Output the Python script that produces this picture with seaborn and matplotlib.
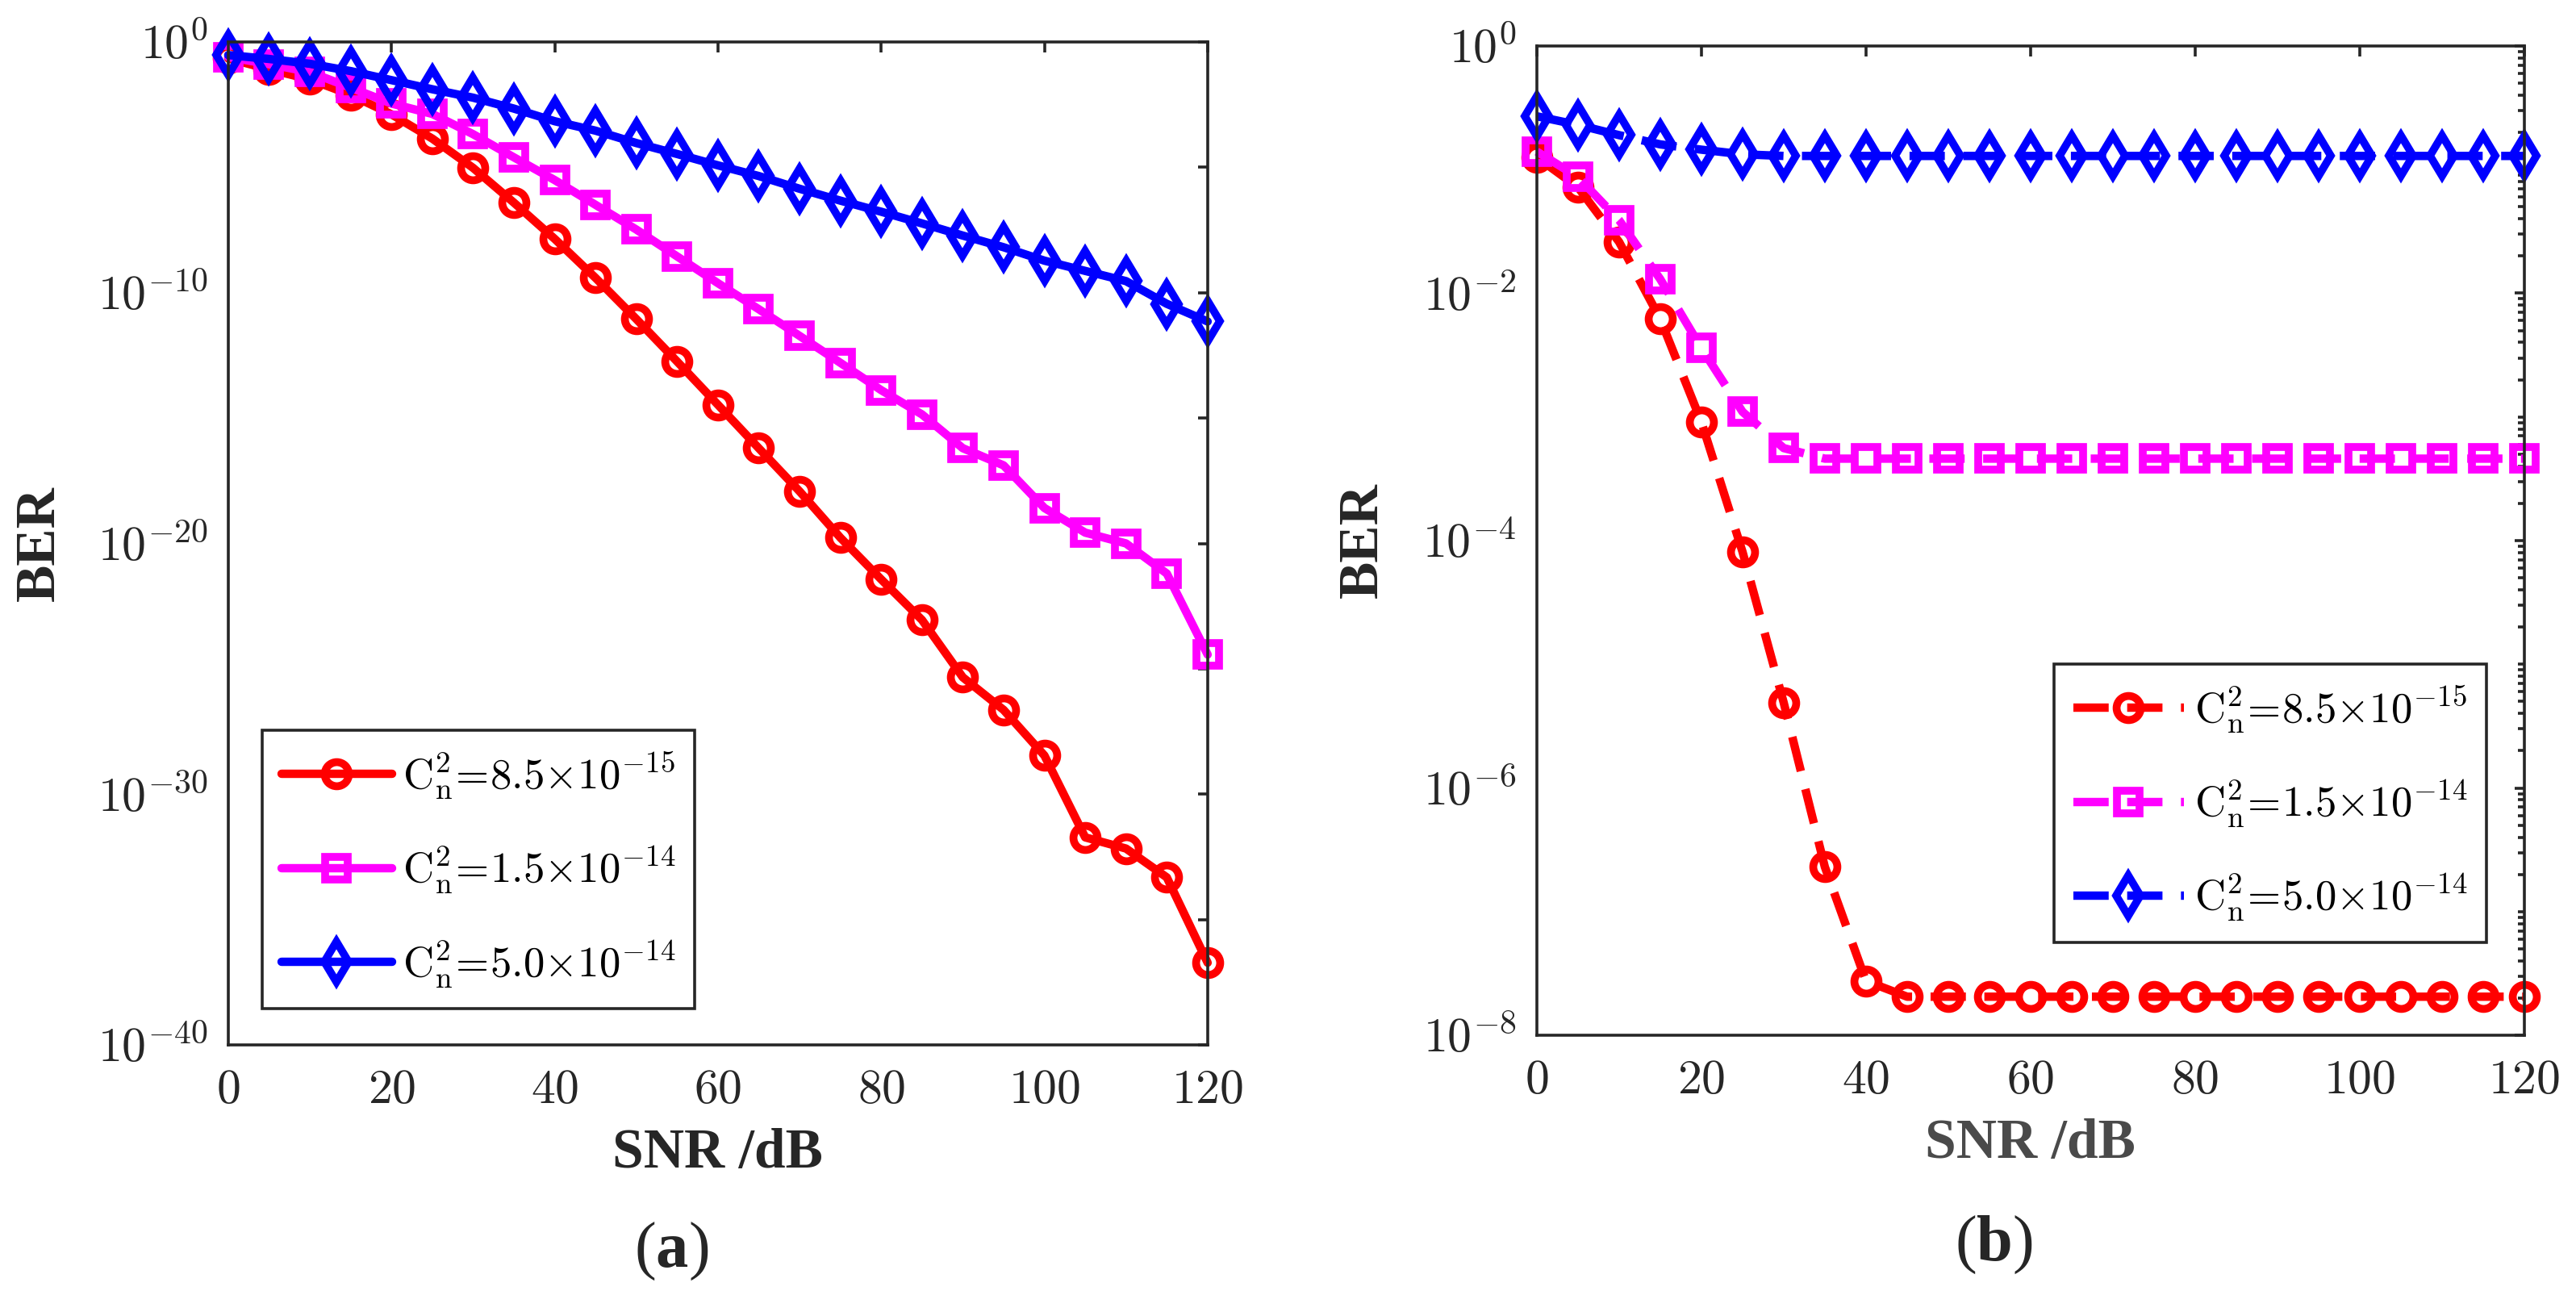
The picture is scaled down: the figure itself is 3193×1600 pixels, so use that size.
import math
import matplotlib
matplotlib.use('Agg')
import pandas as pd
import matplotlib.pyplot as plt
import seaborn as sns
from matplotlib.ticker import FixedLocator, FuncFormatter, LogLocator, NullFormatter

# SNR axis (dB), one marker every 5 dB
snr_db = list(range(0, 121, 5))

# series labels (turbulence strength)
labels = [r'$\mathrm{C}_\mathrm{n}^{2}\!=\!8.5{\times}10^{-15}$',
          r'$\mathrm{C}_\mathrm{n}^{2}\!=\!1.5{\times}10^{-14}$',
          r'$\mathrm{C}_\mathrm{n}^{2}\!=\!5.0{\times}10^{-14}$']

# panel (a) BER values
ber_a_85e15 = [2.2e-1, 8.1e-2, 3.2e-2, 7.8e-3, 1.3e-3, 1.4e-4, 9.5e-6, 3.9e-7, 1.4e-8,
               3.9e-10, 8.9e-12, 1.8e-13, 3.4e-15, 6.3e-17, 1.2e-18, 1.7e-20, 3.7e-22,
               8.9e-24, 4.6e-26, 2.3e-27, 3.5e-29, 1.9e-32, 6.8e-33, 4.8e-34, 1.9e-37]
ber_a_15e14 = [2.5e-1, 1.3e-1, 6.3e-2, 1.5e-2, 3.5e-3, 1.35e-3, 2.1e-4, 2.5e-5, 3.1e-6,
               3.2e-7, 3.3e-8, 2.8e-9, 2.4e-10, 2.2e-11, 1.9e-12, 1.6e-13, 1.3e-14,
               1.4e-15, 6.3e-17, 1.3e-17, 2.6e-19, 2.7e-20, 1.0e-20, 6.3e-22, 3.7e-25]
ber_a_50e14 = [3.0e-1, 2.1e-1, 1.35e-1, 6.9e-2, 3.0e-2, 1.3e-2, 6.0e-3, 2.2e-3, 6.9e-4,
               2.9e-4, 9.3e-5, 3.4e-5, 1.2e-5, 4.5e-6, 1.4e-6, 4.7e-7, 1.7e-7, 5.8e-8,
               1.9e-8, 6.5e-9, 1.9e-9, 7.4e-10, 2.9e-10, 3.6e-11, 7.1e-12]

# panel (b) BER values
ber_b_85e15 = [1.26e-1, 7.2e-2, 2.6e-2, 6.2e-3, 9.1e-4, 8.1e-5, 4.9e-6, 2.3e-7, 2.75e-8,
               2.05e-8, 2.05e-8, 2.05e-8, 2.05e-8, 2.05e-8, 2.05e-8, 2.05e-8, 2.05e-8,
               2.05e-8, 2.05e-8, 2.05e-8, 2.05e-8, 2.05e-8, 2.05e-8, 2.05e-8, 2.05e-8]
ber_b_15e14 = [1.4e-1, 8.7e-2, 3.9e-2, 1.3e-2, 3.6e-3, 1.1e-3, 5.6e-4, 4.6e-4, 4.6e-4,
               4.6e-4, 4.6e-4, 4.6e-4, 4.6e-4, 4.6e-4, 4.6e-4, 4.6e-4, 4.6e-4,
               4.6e-4, 4.6e-4, 4.6e-4, 4.6e-4, 4.6e-4, 4.6e-4, 4.6e-4, 4.6e-4]
ber_b_50e14 = [2.7e-1, 2.3e-1, 1.9e-1, 1.6e-1, 1.45e-1, 1.33e-1, 1.29e-1, 1.29e-1, 1.29e-1,
               1.29e-1, 1.29e-1, 1.29e-1, 1.29e-1, 1.29e-1, 1.29e-1, 1.29e-1, 1.29e-1,
               1.29e-1, 1.29e-1, 1.29e-1, 1.29e-1, 1.29e-1, 1.29e-1, 1.29e-1, 1.29e-1]

colors = ['#ff0000', '#ff00ff', '#0000ff']
markers = ['o', 's', 'd']
msizes = [21.5, 19.5, 25]

sns.set_style('white')
plt.rcParams['font.family'] = ['Liberation Serif', 'DejaVu Serif']
plt.rcParams['mathtext.fontset'] = 'cm'
plt.rcParams['mathtext.rm'] = 'Liberation Serif'
plt.rcParams['mathtext.bf'] = 'Liberation Serif:bold'

ink = '#262626'

fig = plt.figure(figsize=(31.93, 16), dpi=100)
ax_a = fig.add_axes([0.0886, 0.1906, 0.3802, 0.7769])
ax_b = fig.add_axes([0.5966, 0.1981, 0.3833, 0.7663])

panels = [
    (ax_a, [ber_a_85e15, ber_a_15e14, ber_a_50e14], '-', 1e-40),
    (ax_b, [ber_b_85e15, ber_b_15e14, ber_b_50e14], (0, (4.2, 2.2)), 1e-8),
]

for ax, series, ls, ymin in panels:
    for vals, lab, c, m, ms in zip(series, labels, colors, markers, msizes):
        df = pd.DataFrame({'snr': snr_db, 'ber': vals})
        sns.lineplot(data=df, x='snr', y='ber', ax=ax, color=c, linestyle=ls,
                     linewidth=7.5, marker=m, markersize=ms, markeredgewidth=7,
                     markeredgecolor=c, markerfacecolor='none', label=lab,
                     clip_on=False, sort=False, estimator=None)
    ax.set_yscale('log')
    ax.set_xlim(0, 120)
    ax.set_ylim(ymin, 1)
    ax.set_xticks(range(0, 121, 20))
    ax.xaxis.set_major_formatter(FuncFormatter(lambda v, p: r'$%d$' % v))
    for s in ax.spines.values():
        s.set_linewidth(2.6)
        s.set_color(ink)
    ax.tick_params(which='both', direction='in', top=True, right=True,
                   colors=ink, width=2.6, labelsize=43)
    ax.tick_params(which='major', length=9)
    ax.tick_params(which='minor', length=5.5)
    ax.tick_params(axis='y', pad=18)
    ax.tick_params(axis='x', pad=22)


def decade_label(v, p, every=1):
    k = round(math.log10(v))
    return r'$10^{%d}$' % k if k % every == 0 else ''


# panel (a): ticks every 5 decades, labels every 10
ax_a.yaxis.set_major_locator(FixedLocator([10.0 ** -k for k in range(0, 41, 5)]))
ax_a.yaxis.set_minor_locator(FixedLocator([]))
ax_a.yaxis.set_major_formatter(FuncFormatter(lambda v, p: decade_label(v, p, 10)))

# panel (b): labelled even decades, minor ticks elsewhere
ax_b.yaxis.set_major_locator(FixedLocator([10.0 ** -k for k in range(0, 9, 2)]))
ax_b.yaxis.set_minor_locator(LogLocator(base=10, subs=range(1, 10), numticks=50))
ax_b.yaxis.set_minor_formatter(NullFormatter())
ax_b.yaxis.set_major_formatter(FuncFormatter(decade_label))

# axis labels
for ax, bx, xlab_y, xcol in [(ax_a, -0.192, -0.1086, ink), (ax_b, -0.176, -0.110, '#4a4a4a')]:
    ax.set_xlabel('SNR /dB', fontsize=50, fontweight='bold', color=xcol, va='center')
    ax.xaxis.set_label_coords(0.5, xlab_y)
    ax.set_ylabel('BER', fontsize=50, fontweight='bold', color=ink, va='center')
    ax.yaxis.set_label_coords(bx, 0.5)

# legends
leg_kw = dict(borderaxespad=0, fontsize=38, handlelength=2.6, handletextpad=0.25,
              labelspacing=1.0, frameon=True, fancybox=False, framealpha=1,
              borderpad=0.45)
leg_a = ax_a.legend(loc='lower left', bbox_to_anchor=(0.0346, 0.036), **leg_kw)
leg_b = ax_b.legend(loc='lower right', bbox_to_anchor=(0.962, 0.094), **leg_kw)
for leg in (leg_a, leg_b):
    leg.get_frame().set_edgecolor(ink)
    leg.get_frame().set_linewidth(2.6)
    for t in leg.get_texts():
        t.set_color('black')

# sub-figure captions
fig.text(0.2606, 0.031, r'($\mathbf{a}$)', fontsize=58, ha='center', va='center',
         color=ink, math_fontfamily='custom')
fig.text(0.774, 0.036, r'($\mathbf{b}$)', fontsize=58, ha='center', va='center',
         color=ink, math_fontfamily='custom')

fig.savefig('out.png', dpi=100, facecolor='white')
